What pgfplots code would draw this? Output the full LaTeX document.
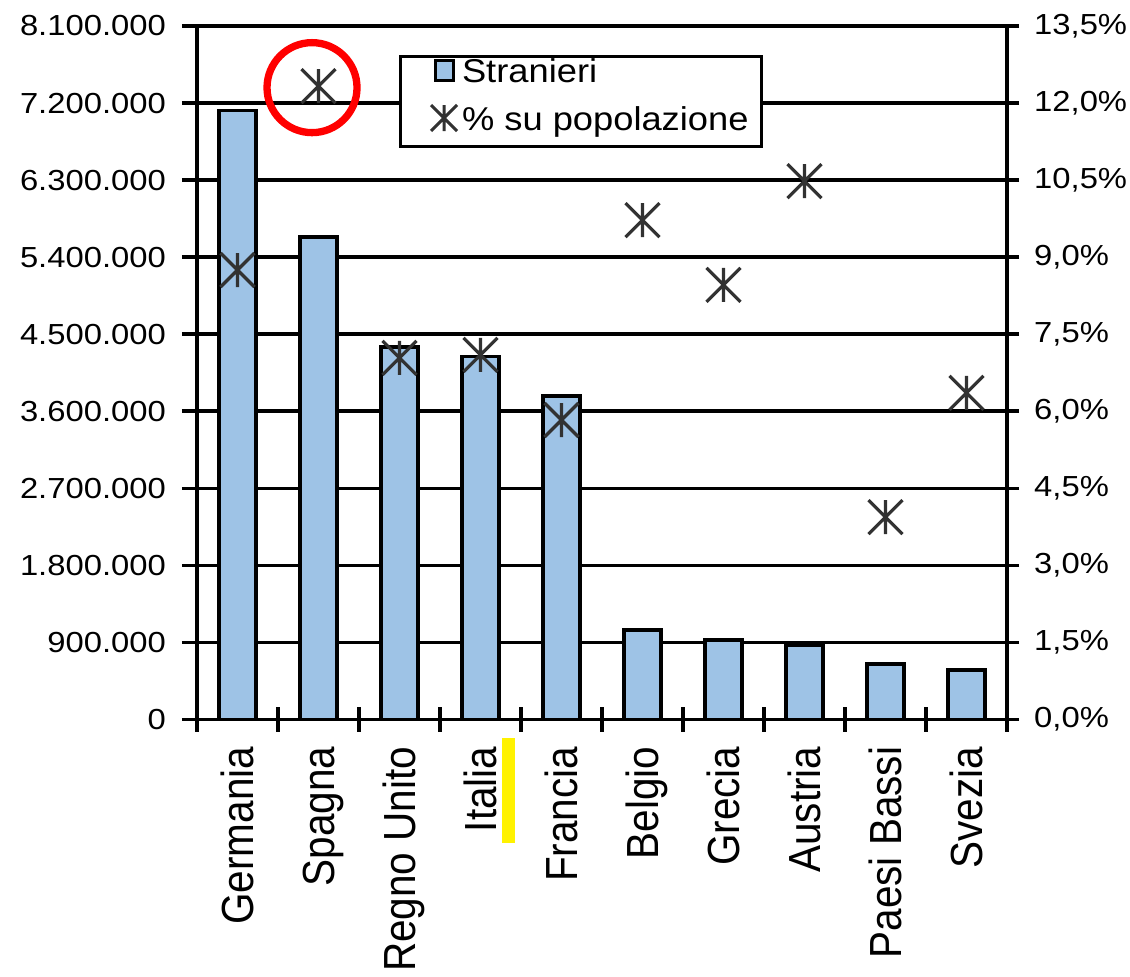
\documentclass[border=0pt]{standalone}
\usepackage{fontspec}
\setmainfont{Liberation Sans}
\newfontfamily\tickfam{Liberation Sans}[FakeStretch=1.13]
\newfontfamily\catfam{Liberation Sans}[FakeStretch=0.9]
\newfontfamily\legfam{Liberation Sans}[FakeStretch=1.1]
\usepackage{pgfplots}
\usepackage{pgfplotstable}
\pgfplotsset{compat=1.18}
\definecolor{barblue}{RGB}{158,195,230}
\definecolor{markgray}{RGB}{50,50,50}

\pgfdeclareplotmark{xbar}{%
  \pgfpathmoveto{\pgfqpoint{-\pgfplotmarksize}{-\pgfplotmarksize}}%
  \pgfpathlineto{\pgfqpoint{\pgfplotmarksize}{\pgfplotmarksize}}%
  \pgfpathmoveto{\pgfqpoint{-\pgfplotmarksize}{\pgfplotmarksize}}%
  \pgfpathlineto{\pgfqpoint{\pgfplotmarksize}{-\pgfplotmarksize}}%
  \pgfpathmoveto{\pgfqpoint{0pt}{-\pgfplotmarksize}}%
  \pgfpathlineto{\pgfqpoint{0pt}{\pgfplotmarksize}}%
  \pgfusepathqstroke}

\pgfplotstableread{
x bars pct
0 7113000 8.75
1 5636000 12.33
2 4354000 7.04
3 4240000 7.10
4 3778000 5.83
5 1045000 9.72
6 929000 8.46
7 870000 10.48
8 648000 3.94
9 578000 6.36
}\datatable

\pgfplotsset{base/.style={width=810pt, height=693.5pt, scale only axis,
  xmin=-0.5, xmax=9.5, clip=false}}

\begin{document}
\begin{tikzpicture}
% Axis 1: bars, left axis, grid
\begin{axis}[base, ymin=0, ymax=8100000,
  axis x line*=bottom, axis y line*=left,
  axis line style={-, line width=3.6pt, black},
  xtick=\empty,
  ytick={0,900000,1800000,2700000,3600000,4500000,5400000,6300000,7200000,8100000},
  yticklabels={0,900.000,1.800.000,2.700.000,3.600.000,4.500.000,5.400.000,6.300.000,7.200.000,8.100.000},
  scaled y ticks=false,
  ymajorgrids, major grid style={line width=3.6pt, black},
  tick align=outside, major tick length=15pt,
  tick style={line width=3.6pt, black},
  yticklabel style={font=\tickfam\fontsize{29}{30}\selectfont, anchor=east, inner xsep=16pt, inner ysep=0pt},
]
\addplot[ybar, bar width=37.5pt, fill=barblue, draw=black, line width=3.6pt]
  table[x=x, y=bars]{\datatable};
\end{axis}
% Axis 2: percentages, right axis, legend
\begin{axis}[base, ymin=0, ymax=13.5,
  axis x line=none, axis y line*=right,
  axis line style={-, line width=3.6pt, black},
  xtick=\empty,
  ytick={0,1.5,3,4.5,6,7.5,9,10.5,12,13.5},
  yticklabels={{0,0\%},{1,5\%},{3,0\%},{4,5\%},{6,0\%},{7,5\%},{9,0\%},{10,5\%},{12,0\%},{13,5\%}},
  tick align=outside, major tick length=12pt,
  tick style={line width=3.6pt, black},
  yticklabel style={font=\tickfam\fontsize{29}{30}\selectfont, anchor=west, inner xsep=15pt, inner ysep=0pt},
  legend cell align=left,
  legend style={at={(0.2488,0.9589)}, anchor=north west, draw=black, line width=3pt,
    fill=white, inner xsep=13pt, inner ysep=2pt, row sep=21.5pt,
    font=\legfam\fontsize{33}{36}\selectfont,
    nodes={inner sep=0pt, text height=24pt, text depth=0pt, anchor=west},
    /tikz/every even column/.append style={column sep=0pt}},
]
\addlegendimage{legend image code/.code={
  \path[draw=none, fill=none] (-11pt,-12pt) rectangle (38pt,12pt);
  \draw[fill=barblue, draw=black, line width=3pt] (11pt,-10pt) rectangle (29pt,10pt);}}
\addlegendentry{Stranieri}
\addplot[only marks, mark=xbar, mark size=17pt,
  mark options={draw=markgray, line width=3.2pt},
  legend image code/.code={
  \path[draw=none, fill=none] (-11pt,-26pt) rectangle (38pt,12pt);
  \draw[markgray, line width=3pt] (7pt,-13pt) -- (33pt,13pt) (7pt,13pt) -- (33pt,-13pt) (20pt,-13pt) -- (20pt,13pt);}]
  table[x=x, y=pct]{\datatable};
\addlegendentry{\% su popolazione}
\draw[red, line width=7.3pt] (axis cs:0.92,12.30) circle[radius=45pt];
\fill[yellow] (axis cs:3.265,-0.360) rectangle (axis cs:3.426,-2.404);
\end{axis}
% Axis 3: x tick marks between categories
\begin{axis}[base, ymin=0, ymax=1,
  axis y line=none, axis x line*=bottom,
  axis line style={-, line width=3.6pt, black},
  xtick={-0.5,0.5,1.5,2.5,3.5,4.5,5.5,6.5,7.5,8.5,9.5}, xticklabels={},
  tick align=center, major tick length=25pt,
  tick style={line width=3.6pt, black},
]
\end{axis}
% Axis 4: category labels
\begin{axis}[base, ymin=0, ymax=1,
  axis y line=none, axis x line*=bottom,
  axis line style={-, line width=3.6pt, black},
  xtick={0,1,2,3,4,5,6,7,8,9},
  xticklabels={Germania,Spagna,Regno Unito,Italia,Francia,Belgio,Grecia,Austria,Paesi Bassi,Svezia},
  major tick length=0pt,
  xticklabel style={rotate=90, anchor=east, font=\catfam\fontsize{45}{48}\selectfont,
    inner xsep=27pt, inner ysep=0pt, text height=32pt, text depth=0pt},
]
\coordinate (A) at (rel axis cs:0,0);
\coordinate (B) at (rel axis cs:1,1);
\end{axis}
\pgfresetboundingbox
\path[use as bounding box] ([shift={(-197pt,-257.5pt)}]A) rectangle ([shift={(123pt,26pt)}]B);
\end{tikzpicture}
\end{document}
